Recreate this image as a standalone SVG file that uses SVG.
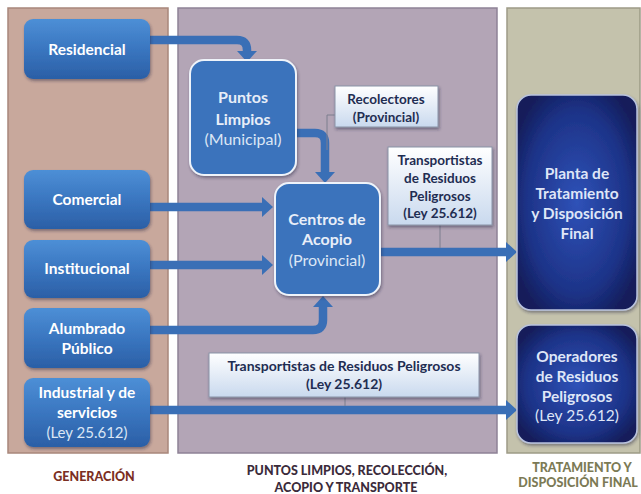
<svg xmlns="http://www.w3.org/2000/svg" width="641" height="494" viewBox="0 0 641 494">
<defs>
<linearGradient id="gBlue" x1="0" y1="0" x2="0" y2="1">
<stop offset="0" stop-color="#4d8fd6"/>
<stop offset="0.5" stop-color="#3a76c0"/>
<stop offset="1" stop-color="#2b5fa6"/>
</linearGradient>
<linearGradient id="gLabel" x1="0" y1="0" x2="0" y2="1">
<stop offset="0" stop-color="#ffffff"/>
<stop offset="1" stop-color="#c9d9ee"/>
</linearGradient>
<radialGradient id="gNavy" cx="0.5" cy="0.5" r="0.6">
<stop offset="0" stop-color="#2f52b8"/>
<stop offset="0.7" stop-color="#1d3388"/>
<stop offset="1" stop-color="#121d5a"/>
</radialGradient>
<marker id="ah" markerUnits="userSpaceOnUse" markerWidth="12" markerHeight="22" refX="0" refY="11" orient="auto">
<path d="M0,1 L11,11 L0,21 z" fill="#3a6fb6"/>
</marker>
<filter id="sh" x="-10%" y="-10%" width="125%" height="130%">
<feDropShadow dx="1" dy="2" stdDeviation="1.5" flood-color="#202040" flood-opacity="0.45"/>
</filter>
</defs>
<style>
.panel{stroke-width:1.5}
.gen{fill:url(#gBlue);filter:url(#sh)}
.mid{fill:#3b73bc;stroke:#eef3fa;stroke-width:2;filter:url(#sh)}
.fin{fill:url(#gNavy);stroke:#b9c2de;stroke-width:1.5;filter:url(#sh)}
.lbl{fill:url(#gLabel);stroke:#8a93a8;stroke-width:1;filter:url(#sh)}
text{font-family:Lato,"Open Sans","Liberation Sans",sans-serif;text-anchor:middle}
.tw{fill:#ffffff;font-weight:bold;font-size:15.5px}
.tl{fill:#dbe6f5;font-size:15px}
.tm{fill:#e8eef8;font-weight:bold;font-size:16px}
.tml{fill:#dbe6f5;font-size:16px}
.tf{fill:#dfe6f7;font-weight:bold;font-size:15.5px}
.tfl{fill:#dfe6f7;font-size:15.5px}
.tn{fill:#1f2d52;font-weight:bold;font-size:13.5px}
.tn2{fill:#1f2d52;font-weight:bold;font-size:14px}
.cap{font-weight:900;font-size:12.5px}
.conn{fill:none;stroke:#3a6fb6;stroke-width:8.5;marker-end:url(#ah)}
.thin{fill:none;stroke:#7d7f8e;stroke-width:1}
</style>

<g id="panels">
<rect class="panel" x="8" y="8" width="160" height="445" fill="#c8a89c" stroke="#a8877b"/>
<rect class="panel" x="178" y="8" width="319" height="445" fill="#b3a5b6" stroke="#8e8296"/>
<rect class="panel" x="507" y="8" width="133" height="445" fill="#c4c2ac" stroke="#9d9b86"/>
</g>

<g id="connectors">
<path class="conn" d="M150,40 H237 Q247,40 247,50 V51"/>
<path class="conn" d="M296,133 H315 Q325,133 325,143 V172"/>
<path class="conn" d="M150,207 H262"/>
<path class="conn" d="M150,265 H262"/>
<path class="conn" d="M150,330 H313 Q323,330 323,320 V307"/>
<path class="conn" d="M380,252 H506"/>
<path class="conn" d="M150,410 H506"/>
<path class="thin" d="M335,115 H327 V150"/>
<path class="thin" d="M440,225 V248"/>
<path class="thin" d="M345,397 V406"/>
</g>

<g id="residencial">
<rect class="gen" x="24" y="19" width="126" height="60" rx="9"/>
<text class="tw" x="87" y="55">Residencial</text>
</g>
<g id="comercial">
<rect class="gen" x="24" y="170" width="126" height="59" rx="9"/>
<text class="tw" x="87" y="205">Comercial</text>
</g>
<g id="institucional">
<rect class="gen" x="24" y="240" width="126" height="58" rx="9"/>
<text class="tw" x="87" y="274">Institucional</text>
</g>
<g id="alumbrado">
<rect class="gen" x="24" y="308" width="126" height="60" rx="9"/>
<text class="tw" x="87" y="334">Alumbrado</text>
<text class="tw" x="87" y="354">Público</text>
</g>
<g id="industrial">
<rect class="gen" x="24" y="378" width="126" height="69" rx="9"/>
<text class="tw" x="87" y="398">Industrial y de</text>
<text class="tw" x="87" y="418">servicios</text>
<text class="tl" x="87" y="438">(Ley 25.612)</text>
</g>

<g id="puntos-limpios">
<rect class="mid" x="190" y="60" width="106" height="115" rx="14"/>
<text class="tm" x="243" y="103">Puntos</text>
<text class="tm" x="243" y="125">Limpios</text>
<text class="tml" x="243" y="145">(Municipal)</text>
</g>
<g id="recolectores">
<rect class="lbl" x="335" y="86" width="103" height="41"/>
<text class="tn" x="386" y="104">Recolectores</text>
<text class="tn" x="386" y="122">(Provincial)</text>
</g>
<g id="transportistas-1">
<rect class="lbl" x="388" y="147" width="104" height="78"/>
<text class="tn" x="440" y="165">Transportistas</text>
<text class="tn" x="440" y="183">de Residuos</text>
<text class="tn" x="440" y="201">Peligrosos</text>
<text class="tn" x="440" y="218">(Ley 25.612)</text>
</g>
<g id="centros-acopio">
<rect class="mid" x="275" y="183" width="105" height="112" rx="14"/>
<text class="tm" x="327" y="225">Centros de</text>
<text class="tm" x="327" y="245">Acopio</text>
<text class="tml" x="327" y="266">(Provincial)</text>
</g>
<g id="transportistas-2">
<rect class="lbl" x="209" y="353" width="270" height="44"/>
<text class="tn2" x="344" y="371">Transportistas de Residuos Peligrosos</text>
<text class="tn2" x="344" y="389">(Ley 25.612)</text>
</g>

<g id="planta">
<rect class="fin" x="517" y="95" width="120" height="215" rx="14"/>
<text class="tf" x="577" y="179">Planta de</text>
<text class="tf" x="577" y="199">Tratamiento</text>
<text class="tf" x="577" y="219">y Disposición</text>
<text class="tf" x="577" y="239">Final</text>
</g>
<g id="operadores">
<rect class="fin" x="517" y="325" width="120" height="118" rx="14"/>
<text class="tf" x="577" y="362">Operadores</text>
<text class="tf" x="577" y="382">de  Residuos</text>
<text class="tf" x="577" y="402">Peligrosos</text>
<text class="tfl" x="577" y="421">(Ley 25.612)</text>
</g>

<g id="captions">
<text class="cap" x="94" y="481" fill="#7b2e22">GENERACIÓN</text>
<text class="cap" x="347" y="475" fill="#3b2b3b">PUNTOS LIMPIOS, RECOLECCIÓN,</text>
<text class="cap" x="346" y="492" fill="#3b2b3b">ACOPIO Y TRANSPORTE</text>
<text class="cap" x="582" y="472" fill="#7c7a55">TRATAMIENTO Y</text>
<text class="cap" x="578" y="487" fill="#7c7a55">DISPOSICIÓN FINAL</text>
</g>
</svg>
